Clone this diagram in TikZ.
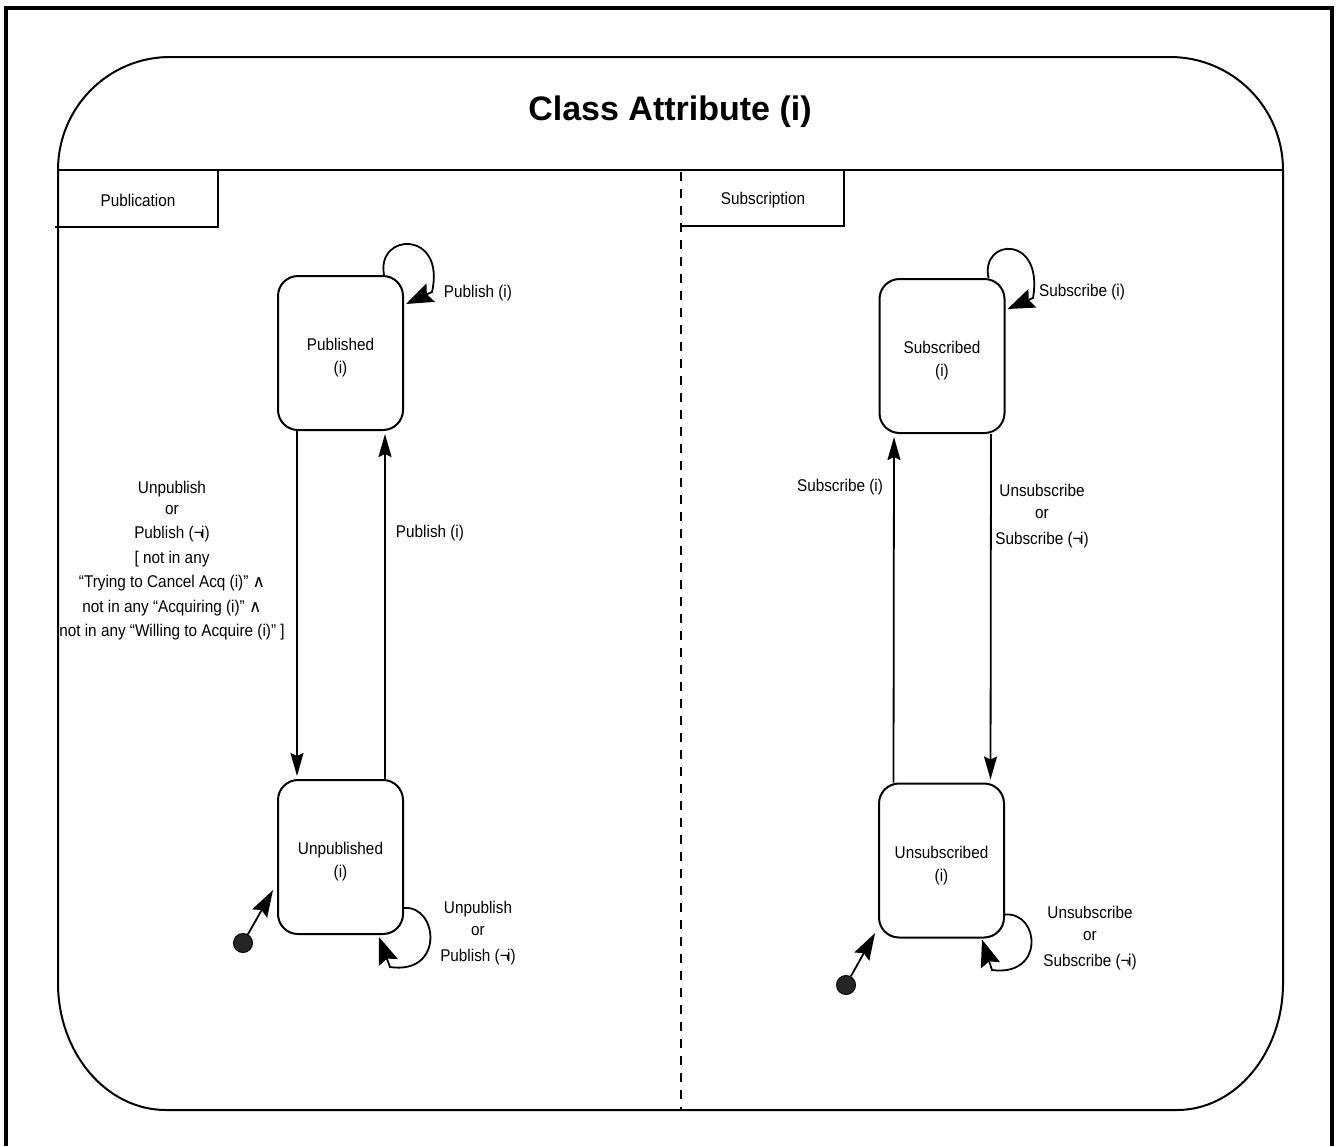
\documentclass[tikz,border=0pt]{standalone}
\usepackage{fontspec}
\setmainfont[FakeStretch=0.9]{Liberation Sans}
\newfontfamily\titlefont{Liberation Sans}
\newfontfamily\symfont{DejaVu Sans}
\usetikzlibrary{arrows.meta}

\tikzset{
  frame/.style={line width=3.5pt},
  panel/.style={line width=2pt},
  lbl/.style={font=\fontsize{17}{22}\selectfont, align=center, inner sep=0pt},
  guard/.style={font=\fontsize{17}{24.5}\selectfont, align=center, inner sep=0pt},
  state/.style={draw, line width=2pt, rounded corners=20pt, minimum width=125pt,
    minimum height=154pt, inner sep=0pt, align=center, text height=45pt,
    font=\fontsize{17}{23}\selectfont},
  initdot/.style={circle, draw, line width=1pt, fill=black!85, minimum size=19pt, inner sep=0pt},
  trans/.style={line width=1.8pt, -{Stealth[length=23pt,width=13pt,inset=3pt]}, shorten >=3pt},
  loop/.style={line width=1.8pt, -{Stealth[length=27pt,width=20pt,inset=4pt]}},
  initarr/.style={line width=1.8pt, -{Stealth[length=27pt,width=17pt,inset=4pt]}},
}

\newcommand{\negi}{(¬\kern-1.5pt i)}
\newcommand{\wedgesym}{{\symfont ∧}}

\begin{document}
\begin{tikzpicture}[x=1pt,y=-1pt]
\useasboundingbox (0,0) rectangle (1337,1146);

% outer frame (open at the bottom edge of the page)
\draw[frame] (6,1146) -- (6,8) -- (1332,8) -- (1332,1146);

% class attribute panel with rounded corners
\draw[panel] (170,57) -- (1170,57)
  .. controls (1232.4,57) and (1283,107.6) .. (1283,170)
  -- (1283,983)
  .. controls (1283,1053.1) and (1235.5,1110) .. (1177,1110)
  -- (166,1110)
  .. controls (106.4,1110) and (58,1053.1) .. (58,983)
  -- (58,170)
  .. controls (58,107.6) and (108.1,57) .. (170,57) -- cycle;

% header separator
\draw[panel] (58,170) -- (1283,170);

% title
\node[font=\titlefont\fontsize{34}{40}\selectfont\bfseries, inner sep=0pt] (title) at (670,112) {Class Attribute (i)};

% region tabs
\draw[panel] (218,170) -- (218,227) -- (55,227);
\node[lbl] (pubtab) at (138,200) {Publication};
\draw[panel] (844,170) -- (844,226) -- (682,226);
\node[lbl] (subtab) at (763,200) {Subscription};

% region divider
\draw[line width=2pt, dash pattern=on 9pt off 8pt] (681,172) -- (681,1110);

% states
\node[state] (pub)   at (340.5,353)  {Published\\(i)};
\node[state] (unpub) at (340.5,857)  {Unpublished\\(i)};
\node[state] (sub)   at (942,356)    {Subscribed\\(i)};
\node[state] (unsub) at (941.5,860.5){Unsubscribed\\(i)};

% initial states
\node[initdot] (ip) at (243,943) {};
\node[initdot] (is) at (846,985) {};
\coordinate (ipt) at (273,890);
\coordinate (ist) at (875,933);
\draw[initarr] (ip) -- (ipt);
\draw[initarr] (is) -- (ist);

% publication transitions
\draw[trans] ([xshift=-43.5pt]pub.south) -- ([xshift=-43.5pt]unpub.north);
\draw[trans] ([xshift=44.5pt]unpub.north) -- ([xshift=44.5pt]pub.south);

\draw[loop] ([xshift=-20pt]pub.north east)
  .. controls (376,232) and (446,230) .. (432,292)
  -- ([xshift=2pt,yshift=-29pt]pub.north east);
\draw[loop] ([yshift=-129pt]unpub.north east)
  .. controls (438,905) and (445,975) .. (390,967)
  -- ([xshift=-25pt,yshift=-2pt]unpub.south east);

% subscription transitions
\draw[trans] ([xshift=-48pt]unsub.north) -- ([xshift=-48pt]sub.south);
\draw[trans] ([xshift=49pt]sub.south) -- ([xshift=49pt]unsub.north);

\draw[loop] ([xshift=-17pt]sub.north east)
  .. controls (980,238) and (1044,234) .. (1033,298)
  -- ([xshift=2pt,yshift=-31pt]sub.north east);
\draw[loop] ([yshift=-132pt]unsub.north east)
  .. controls (1040,912) and (1045,977) .. (992,970)
  -- ([xshift=-23pt,yshift=-1pt]unsub.south east);

% transition labels
\node[guard] (g1) at (172,561) {Unpublish\\[-4pt]or\\Publish \negi\\{[} not in any\\%
  “Trying to Cancel Acq (i)” \wedgesym\\not in any “Acquiring (i)” \wedgesym\\%
  not in any “Willing to Acquire (i)” ]};
\node[lbl] (g2) at (430,533) {Publish (i)};
\node[lbl] (g3) at (478,293) {Publish (i)};
\node[lbl] (g4) at (478,933) {Unpublish\\or\\[4pt]Publish \negi};

\node[lbl] (g5) at (840,487) {Subscribe (i)};
\node[lbl] (g6) at (1042,516) {Unsubscribe\\or\\[4pt]Subscribe \negi};
\node[lbl] (g7) at (1082,292) {Subscribe (i)};
\node[lbl] (g8) at (1090,938) {Unsubscribe\\or\\[4pt]Subscribe \negi};
\end{tikzpicture}
\end{document}
